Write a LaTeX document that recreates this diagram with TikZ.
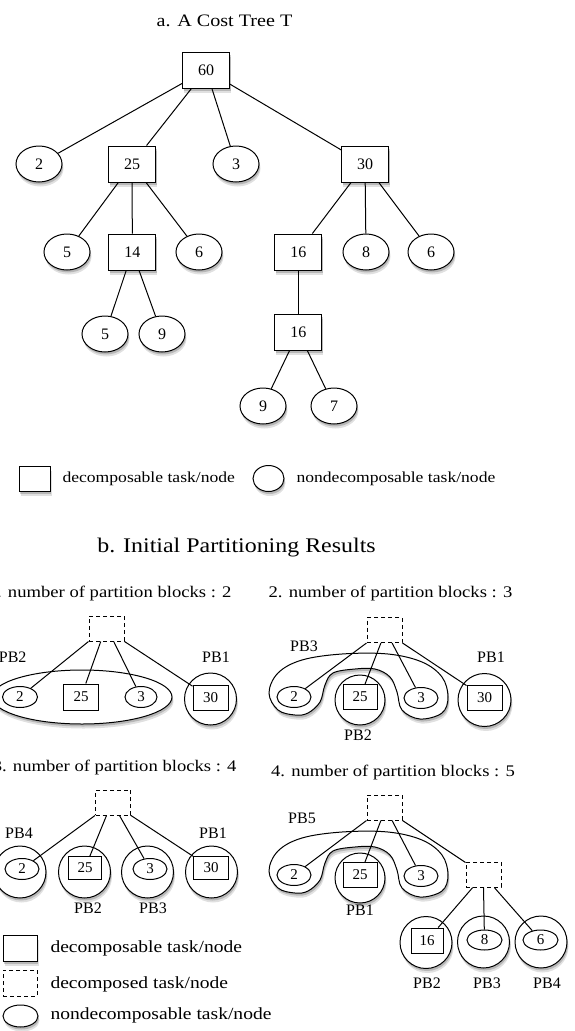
\documentclass[tikz,border=0pt]{standalone}
\usepackage{fontspec}
\setmainfont{Liberation Serif}[FakeStretch=1.15]
\newfontfamily\plainserif{Liberation Serif}
\usetikzlibrary{shapes.geometric,shadows,calc}
\newcommand{\myNum}{\plainserif\fontsize{16}{19}\selectfont}
\newcommand{\myPNum}{\plainserif\fontsize{15}{18}\selectfont}
\newcommand{\myLbl}{\plainserif\fontsize{16}{19}\selectfont}
\newcommand{\myTtlA}{\fontsize{17.5}{21}\selectfont}
\newcommand{\myTtlB}{\fontsize{20.8}{25}\selectfont}
\newcommand{\mySub}{\fontsize{16.2}{19}\selectfont}
\newcommand{\myLegA}{\fontsize{15.3}{18}\selectfont}
\newcommand{\myLegB}{\fontsize{17}{20}\selectfont}
\begin{document}
\begin{tikzpicture}[x=1pt,y=-1pt,line width=1pt,
  softshadow/.style={general shadow={fill=black,opacity=0.12,shadow xshift=1.5pt,shadow yshift=-4.5pt},
                     general shadow={fill=black,opacity=0.18,shadow xshift=1pt,shadow yshift=-2.5pt}},
  treebox/.style={draw,fill=white,rectangle,minimum width=47pt,minimum height=36pt,inner sep=0pt,softshadow,font=\myNum},
  treeell/.style={draw,fill=white,ellipse,minimum width=46pt,minimum height=36pt,inner sep=0pt,softshadow,font=\myNum},
  ibox/.style={draw,fill=white,rectangle,minimum width=34pt,minimum height=25pt,inner sep=0pt,font=\myPNum},
  iell/.style={draw,fill=white,ellipse,minimum width=34pt,minimum height=21pt,inner sep=0pt,font=\myPNum},
  pcirc/.style={draw,fill=white,circle,minimum size=52pt,inner sep=0pt,softshadow},
  dbox/.style={draw,dash pattern=on 4pt off 3pt,fill=white,rectangle,minimum width=35pt,minimum height=25pt,inner sep=0pt},
  lbl/.style={font=\myLbl,anchor=base,inner sep=0pt}
]
\useasboundingbox (0,0) rectangle (574,1031);
\fill[white] (0,0) rectangle (574,1031);
\clip (0,0) rectangle (574,1031);

% ---------------- a. cost tree
\node[font=\myTtlA,anchor=base,inner sep=0pt] (ta) at (224.5,26) {a. A Cost Tree T};
\node[treebox] (r60) at (206,70) {60};
\node[treeell] (a2) at (39,164) {2};
\node[treebox] (a25) at (132,164) {25};
\node[treeell] (a3) at (236,164) {3};
\node[treebox] (a30) at (365,164) {30};
\node[treeell] (a5) at (67,252) {5};
\node[treebox] (a14) at (132.4,252) {14};
\node[treeell] (a6) at (199,252) {6};
\node[treebox] (a16) at (298.4,252) {16};
\node[treeell] (a8) at (366,252) {8};
\node[treeell] (a6b) at (431,252) {6};
\node[treeell] (a5b) at (105,334) {5};
\node[treeell] (a9) at (162,334) {9};
\node[treebox] (a16b) at (298.4,332) {16};
\node[treeell] (a9b) at (263,406) {9};
\node[treeell] (a7) at (334,406) {7};
\draw (r60) -- (a2); \draw (r60) -- (a25); \draw (r60) -- (a3); \draw (r60) -- (a30);
\draw (a25) -- (a5); \draw (a25) -- (a14); \draw (a25) -- (a6);
\draw (a30) -- (a16); \draw (a30) -- (a8); \draw (a30) -- (a6b);
\draw (a14) -- (a5b); \draw (a14) -- (a9);
\draw (a16) -- (a16b);
\draw (a16b) -- (a9b); \draw (a16b) -- (a7);

% legend a
\node[draw,fill=white,minimum width=31pt,minimum height=25pt,inner sep=0pt,softshadow] (la1) at (34.5,478.5) {};
\node[font=\myLegA,anchor=west,inner sep=0pt] (la1t) at (62,479) {decomposable task/node};
\node[draw,fill=white,ellipse,minimum width=31pt,minimum height=26pt,inner sep=0pt,softshadow] (la2) at (268.5,478.5) {};
\node[font=\myLegA,anchor=west,inner sep=0pt] (la2t) at (296,479) {nondecomposable task/node};

% ---------------- b. title
\node[font=\myTtlB,anchor=base,inner sep=0pt] (tb) at (236.5,552) {b. Initial Partitioning Results};

% ---------------- panel 1
\node[font=\mySub,anchor=base east,inner sep=0pt] (t1) at (232,597) {1. number of partition blocks : 2};
\node[draw,fill=white,ellipse,minimum width=180pt,minimum height=54pt,inner sep=0pt,softshadow] (p1pb2) at (82,697) {};
\node[iell,minimum width=35pt] (p1e2) at (20,697) {2};
\node[ibox,minimum width=35pt,minimum height=26pt] (p1b25) at (81,697) {25};
\node[iell,minimum width=32pt] (p1e3) at (141,697) {3};
\node[pcirc] (p1c) at (210.5,699) {};
\node[ibox,minimum width=35pt] (p1b30) at (210.5,698) {30};
\node[dbox] (d1) at (106.5,628.5) {};
\node[lbl,anchor=base east] (p1l2) at (27,662) {PB2};
\node[lbl] (p1l1) at (216,662) {PB1};
\draw (d1.south west) -- (p1e2);
\draw ($(d1.south west)!0.34!(d1.south east)$) -- (p1b25);
\draw ($(d1.south west)!0.7!(d1.south east)$) -- (p1e3);
\draw (d1.south east) -- (p1b30);

% ---------------- panel 2
\node[font=\mySub,anchor=base,inner sep=0pt] (t2) at (390.5,597) {2. number of partition blocks : 3};
\draw[fill=white,softshadow] plot[smooth cycle,tension=0.6] coordinates {(269,693) (278,673) (302,660) (342,654) (388,654) (422,662) (442,677) (448,697) (442,713) (420,719) (402,710) (397,692) (390,677) (375,669) (355,669) (333,673) (325,685) (320,702) (308,713) (295,715) (278,710)};
\node[iell] (p2e2) at (294,697) {2};
\node[pcirc,minimum size=50pt] (p2c) at (360,700) {};
\node[ibox] (p2b25) at (360,697) {25};
\node[iell] (p2e3) at (421,698) {3};
\node[pcirc,minimum size=53pt] (p2c30) at (484.5,700) {};
\node[ibox,minimum width=35pt] (p2b30) at (484.5,697.5) {30};
\node[dbox] (d2) at (384.5,630) {};
\node[lbl] (p2l3) at (304,651) {PB3};
\node[lbl] (p2l1) at (491,662) {PB1};
\node[lbl] (p2l2) at (358,740) {PB2};
\draw (d2.south west) -- (p2e2);
\draw ($(d2.south west)!0.4!(d2.south east)$) -- (p2b25);
\draw ($(d2.south west)!0.71!(d2.south east)$) -- (p2e3);
\draw (d2.south east) -- (p2b30);

% ---------------- panel 3
\node[font=\mySub,anchor=base east,inner sep=0pt] (t3) at (237,771) {3. number of partition blocks : 4};
\node[pcirc] (p3c1) at (20,872) {};
\node[pcirc] (p3c2) at (84.5,872) {};
\node[pcirc] (p3c3) at (147.5,872) {};
\node[pcirc] (p3c4) at (211.5,872) {};
\node[iell] (p3e2) at (22,869) {2};
\node[ibox,minimum width=33pt,minimum height=23pt] (p3b25) at (85,868) {25};
\node[iell] (p3e3) at (150,869) {3};
\node[ibox,minimum width=35pt,minimum height=23pt] (p3b30) at (211,868) {30};
\node[dbox] (d3) at (113,802.5) {};
\node[lbl] (p3l4) at (19,838) {PB4};
\node[lbl] (p3l1) at (213,838) {PB1};
\node[lbl] (p3l2) at (88,913) {PB2};
\node[lbl] (p3l3) at (153,913) {PB3};
\draw (d3.south west) -- (p3e2);
\draw ($(d3.south west)!0.32!(d3.south east)$) -- (p3b25);
\draw ($(d3.south west)!0.68!(d3.south east)$) -- (p3e3);
\draw (d3.south east) -- (p3b30);

% legend b
\node[draw,fill=white,minimum width=34pt,minimum height=26pt,inner sep=0pt,softshadow] (lb1) at (20,948) {};
\node[font=\myLegB,anchor=west,inner sep=0pt] (lb1t) at (50,948) {decomposable task/node};
\node[dbox,minimum width=34pt,minimum height=26pt] (lb2) at (20,983) {};
\node[font=\myLegB,anchor=west,inner sep=0pt] (lb2t) at (50,984) {decomposed task/node};
\node[draw,fill=white,ellipse,minimum width=35pt,minimum height=22pt,inner sep=0pt,softshadow] (lb3) at (20.5,1016) {};
\node[font=\myLegB,anchor=west,inner sep=0pt] (lb3t) at (50,1015) {nondecomposable task/node};

% ---------------- panel 4
\node[font=\mySub,anchor=base,inner sep=0pt] (t4) at (393,776) {4. number of partition blocks : 5};
\begin{scope}[shift={(0,178)}]
\draw[fill=white,softshadow] plot[smooth cycle,tension=0.6] coordinates {(269,693) (278,673) (302,660) (342,654) (388,654) (422,662) (442,677) (448,697) (442,713) (420,719) (402,710) (397,692) (390,677) (375,669) (355,669) (333,673) (325,685) (320,702) (308,713) (295,715) (278,710)};
\end{scope}
\node[iell] (p4e2) at (294,875) {2};
\node[pcirc,minimum size=50pt] (p4c) at (360,878) {};
\node[ibox] (p4b25) at (360,875) {25};
\node[iell] (p4e3) at (421,876) {3};
\node[dbox] (d4) at (384.5,807.5) {};
\node[dbox] (d5) at (483.5,874.5) {};
\node[pcirc] (p4c16) at (426,942.5) {};
\node[pcirc] (p4c8) at (483.5,942) {};
\node[pcirc] (p4c6) at (541,942) {};
\node[ibox,minimum width=32pt] (p4b16) at (427,940.5) {16};
\node[iell,minimum width=35pt,minimum height=20pt] (p4e8) at (484.5,940) {8};
\node[iell,minimum width=35pt,minimum height=20pt] (p4e6) at (540.5,940) {6};
\node[lbl] (p4l5) at (302,823) {PB5};
\node[lbl] (p4l1) at (360,915) {PB1};
\node[lbl] (p4l2) at (427,988) {PB2};
\node[lbl] (p4l3) at (487,988) {PB3};
\node[lbl] (p4l4) at (547,988) {PB4};
\draw (d4.south west) -- (p4e2);
\draw ($(d4.south west)!0.4!(d4.south east)$) -- (p4b25);
\draw ($(d4.south west)!0.71!(d4.south east)$) -- (p4e3);
\draw (d4.south east) -- (d5);
\draw ($(d5.south west)!0.2!(d5.south east)$) -- (p4b16);
\draw ($(d5.south west)!0.5!(d5.south east)$) -- (p4e8);
\draw ($(d5.south west)!0.8!(d5.south east)$) -- (p4e6);
\end{tikzpicture}
\end{document}
